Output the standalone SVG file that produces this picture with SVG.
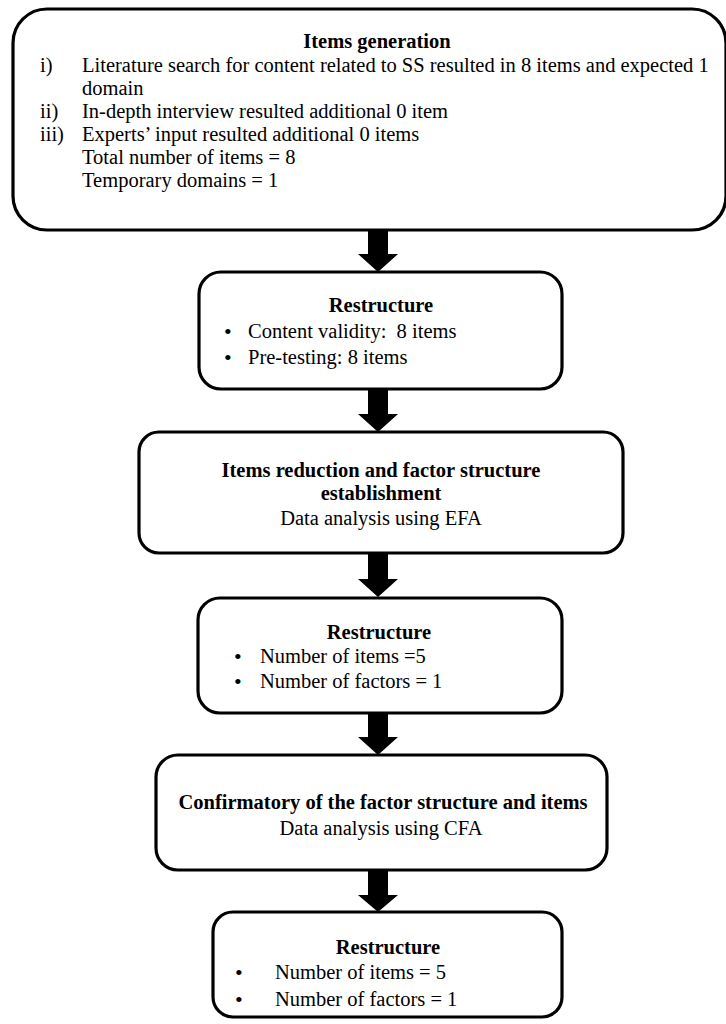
<svg xmlns="http://www.w3.org/2000/svg" width="726" height="1024" viewBox="0 0 726 1024">
<style>
.box{fill:#fff;stroke:#000;stroke-width:3.2}
text{font-family:"Liberation Serif","Times New Roman",serif;font-size:20.5px;fill:#000}
.b{font-weight:bold}
.c{text-anchor:middle}
.bul{font-size:22px}
.arr{fill:#000;stroke:none}
</style>
<rect width="726" height="1024" fill="#fff"/>
<g id="connectors">
<path class="arr" d="M368,230 H388 V254 H398 L378,272 L358,254 H368 Z"/>
<path class="arr" d="M368,389 H388 V414 H398 L378,432 L358,414 H368 Z"/>
<path class="arr" d="M368,553 H388 V579 H398 L378,597 L358,579 H368 Z"/>
<path class="arr" d="M368,713 H388 V737 H398 L378,755 L358,737 H368 Z"/>
<path class="arr" d="M368,870 H388 V895 H398 L378,912 L358,895 H368 Z"/>
</g>
<g id="items-generation">
<rect class="box" x="13" y="9" width="713" height="221" rx="34"/>
<text class="b c" x="377" y="48">Items generation</text>
<text x="40" y="72">i)</text>
<text x="82" y="72">Literature search for content related to SS resulted in 8 items and expected 1</text>
<text x="82" y="95">domain</text>
<text x="40" y="118">ii)</text>
<text x="82" y="118">In-depth interview resulted additional 0 item</text>
<text x="40" y="141">iii)</text>
<text x="82" y="141">Experts’ input resulted additional 0 items</text>
<text x="82" y="164">Total number of items = 8</text>
<text x="82" y="187">Temporary domains = 1</text>
</g>
<g id="restructure-1">
<rect class="box" x="199" y="272" width="363" height="117" rx="22"/>
<text class="b c" x="381" y="312">Restructure</text>
<text class="bul" x="224" y="339">•</text>
<text x="248" y="338">Content validity:&#160; 8 items</text>
<text class="bul" x="224" y="365">•</text>
<text x="248" y="364">Pre-testing: 8 items</text>
</g>
<g id="items-reduction">
<rect class="box" x="139" y="432" width="484" height="121" rx="20"/>
<text class="b c" x="381" y="477">Items reduction and factor structure</text>
<text class="b c" x="381" y="500">establishment</text>
<text class="c" x="381" y="525">Data analysis using EFA</text>
</g>
<g id="restructure-2">
<rect class="box" x="198" y="598" width="364" height="115" rx="22"/>
<text class="b c" x="379" y="639">Restructure</text>
<text class="bul" x="234" y="664">•</text>
<text x="260" y="663">Number of items =5</text>
<text class="bul" x="234" y="689">•</text>
<text x="260" y="688">Number of factors = 1</text>
</g>
<g id="confirmatory">
<rect class="box" x="156" y="755" width="451" height="115" rx="22"/>
<text class="b c" x="383" y="809">Confirmatory of the factor structure and items</text>
<text class="c" x="381" y="835">Data analysis using CFA</text>
</g>
<g id="restructure-3">
<rect class="box" x="213" y="912" width="349" height="105" rx="20"/>
<text class="b c" x="388" y="954">Restructure</text>
<text class="bul" x="235" y="980">•</text>
<text x="275" y="979">Number of items = 5</text>
<text class="bul" x="235" y="1007">•</text>
<text x="275" y="1006">Number of factors = 1</text>
</g>
</svg>
